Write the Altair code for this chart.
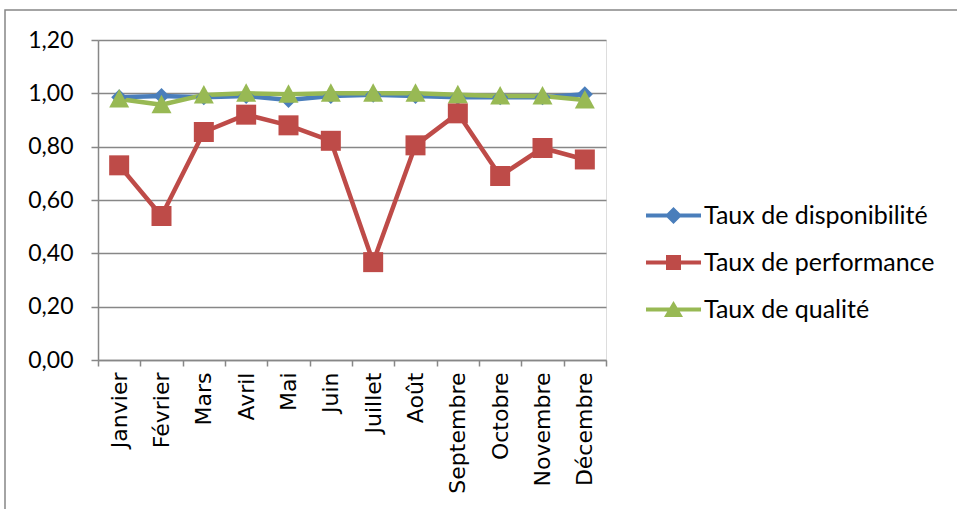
import altair as alt
import pandas as pd

mois = ["Janvier", "Février", "Mars", "Avril", "Mai", "Juin", "Juillet",
        "Août", "Septembre", "Octobre", "Novembre", "Décembre"]
series = ["Taux de disponibilité", "Taux de performance", "Taux de qualité"]
disponibilite = [0.985, 0.99, 0.985, 0.99, 0.975, 0.99, 0.995, 0.99, 0.985, 0.985, 0.985, 0.997]
performance = [0.73, 0.54, 0.855, 0.92, 0.88, 0.822, 0.367, 0.805, 0.925, 0.69, 0.795, 0.752]
qualite = [0.979, 0.957, 0.994, 1.0, 0.997, 1.0, 1.0, 1.0, 0.995, 0.99, 0.99, 0.975]
colors = ["#4A7EBB", "#BE4B48", "#98B954"]
y_ticks = [0.0, 0.2, 0.4, 0.6, 0.8, 1.0, 1.2]

rows = []
for si, (name, vals) in enumerate(zip(series, [disponibilite, performance, qualite])):
    for mi, (m, v) in enumerate(zip(mois, vals)):
        rows.append({"mois": m, "serie": name, "valeur": v, "ordre": si * 100 + mi})
df = pd.DataFrame(rows)

marker_paths = [
    "M0,-0.8L0.8,0L0,0.8L-0.8,0Z",
    "M-1,-1H1V1H-1Z",
    "M0,-1L1,0.85H-1Z",
]
legend_paths = [
    "M-2.75,-0.2H2.75V0.2H-2.75ZM0,-0.85L0.85,0L0,0.85L-0.85,0Z",
    "M-2.75,-0.2H2.75V0.2H-2.75ZM-0.75,-0.75H0.75V0.75H-0.75Z",
    "M-2.75,-0.2H2.75V0.2H-2.75ZM0,-0.85L0.95,0.75H-0.95Z",
]

GRID = "#878787"

x_enc = alt.X(
    "mois:N", sort=mois, bandPosition=0.5,
    scale=alt.Scale(type="band", domain=mois, paddingInner=0, paddingOuter=0),
    axis=alt.Axis(title=None, labelAngle=-90, labelAlign="right", labelBaseline="middle",
                  labelFont="DejaVu Sans", labelFontSize=22, labelColor="#000000",
                  labelPadding=6, tickBand="extent", ticks=True, tickSize=6,
                  tickColor=GRID, tickWidth=1.5, domainColor=GRID, domainWidth=1.5,
                  grid=False, labelLimit=0),
)
y_enc = alt.Y(
    "valeur:Q",
    scale=alt.Scale(domain=[0, 1.2], nice=False, zero=True),
    axis=alt.Axis(title=None, values=y_ticks, labelExpr="replace(format(datum.value, '.2f'), '.', ',')",
                  labelFont="Lato", labelFontSize=23, labelColor="#000000", labelPadding=18,
                  tickSize=7, tickColor=GRID, tickWidth=1.5, domainColor=GRID, domainWidth=1.5,
                  grid=True, gridColor=GRID, gridWidth=1.5),
)
color_scale = alt.Scale(domain=series, range=colors)

base = alt.Chart(df)

lines = base.mark_line(strokeWidth=4.5, strokeJoin="round").encode(
    x=x_enc, y=y_enc,
    color=alt.Color("serie:N", scale=color_scale, legend=None),
    order=alt.Order("ordre:Q"),
)

points = base.mark_point(filled=True, opacity=1, size=400, strokeWidth=0).encode(
    x=x_enc, y=y_enc,
    color=alt.Color("serie:N", scale=color_scale, legend=None),
    shape=alt.Shape("serie:N", scale=alt.Scale(domain=series, range=marker_paths), legend=None),
    order=alt.Order("ordre:Q"),
)

leg = alt.Legend(
    title=None, orient="none", legendX=563, legendY=163,
    labelFont="Lato", labelFontSize=25, labelColor="#000000", labelLimit=0,
    labelOffset=18, symbolSize=400, rowPadding=21, padding=0,
    symbolStrokeWidth=0, symbolOpacity=1,
)
legend_layer = base.transform_calculate(leg="datum.serie").transform_filter(
    "datum.valeur < -10"
).mark_point(filled=True, size=400, strokeWidth=0).encode(
    x=x_enc, y=y_enc,
    color=alt.Color("leg:N", scale=alt.Scale(domain=series, range=colors), legend=leg),
    shape=alt.Shape("leg:N", scale=alt.Scale(domain=series, range=legend_paths), legend=leg),
)

frame = alt.Chart(pd.DataFrame({"k": [0]})).mark_rect(
    fill=None, stroke=GRID, strokeWidth=1.5, clip=False
).encode(
    x=alt.value(-93), x2=alt.value(900),
    y=alt.value(-30), y2=alt.value(520),
)

chart = alt.layer(frame, lines, points, legend_layer).resolve_scale(
    color="independent", shape="independent"
).properties(
    width=508, height=320,
    padding={"left": 98, "top": 40, "right": 351, "bottom": 149},
    autosize=alt.AutoSizeParams(type="none"),
).configure_view(stroke=None).configure(background="white")

chart.save("out.html", embed_options={"renderer": "svg", "actions": False})
